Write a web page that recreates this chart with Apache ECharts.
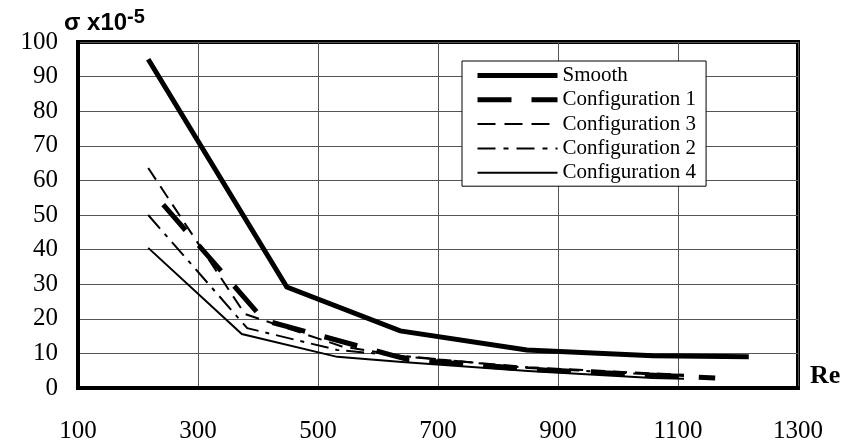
<!DOCTYPE html>
<html>
<head>
<meta charset="utf-8">
<script src="https://cdn.jsdelivr.net/npm/echarts@6/dist/echarts.min.js"></script>
<style>
html,body{margin:0;padding:0;background:#fff;}
#chart{width:861px;height:446px;}
</style>
</head>
<body>
<div id="chart"></div>
<script>
// ---- data ----
var seriesNames = ['Smooth', 'Configuration 1', 'Configuration 3', 'Configuration 2', 'Configuration 4'];
var xTicks = [100, 300, 500, 700, 900, 1100, 1300];
var reSmooth = [217, 448, 637, 848, 1058, 1218];
var valSmooth = [95, 29.2, 16.5, 11, 9.3, 9];
var reConf1 = [242, 410, 650, 850, 1060, 1162];
var valConf1 = [53, 19.6, 8.2, 5.4, 3.7, 2.9];
var reConf3 = [217, 378, 540, 650, 850, 1060, 1110];
var valConf3 = [63.6, 21.4, 12, 9, 6, 4.2, 3.8];
var reConf2 = [217, 382, 532, 640, 850, 1060, 1110];
var valConf2 = [50, 17.3, 11, 9.3, 5.8, 3.9, 3.5];
var reConf4 = [217, 373, 532, 640, 850, 1058, 1110];
var valConf4 = [40.5, 15.6, 9, 7.5, 4.9, 2.9, 2.7];

function pairs(xs, ys) { return xs.map(function (x, i) { return [x, ys[i]]; }); }

var chart = echarts.init(document.getElementById('chart'));
var serif = 'Liberation Serif, Times New Roman, serif';
var styles = {
  'Smooth': { width: 5, type: 'solid' },
  'Configuration 1': { width: 5, type: [34, 20] },
  'Configuration 3': { width: 2, type: [14, 8] },
  'Configuration 2': { width: 2, type: [18, 7, 4, 7] },
  'Configuration 4': { width: 2, type: 'solid' }
};
var legendStyles = {
  'Configuration 3': [18, 9],
  'Configuration 2': [18, 8, 5, 8]
};
function mk(name, xs, ys) {
  var s = styles[name];
  return {
    name: name, type: 'line', data: pairs(xs, ys), symbol: 'none',
    lineStyle: { color: '#000', width: s.width, type: s.type, cap: 'butt', join: 'miter' },
    itemStyle: { color: '#000' },
    emphasis: { disabled: true }, animation: false, z: 3
  };
}
chart.setOption({
  animation: false,
  grid: { left: 78, right: 63, top: 42, bottom: 58, show: true, borderColor: '#000', borderWidth: 4, backgroundColor: 'transparent' },
  legend: {
    orient: 'vertical', left: 462, top: 61,
    data: seriesNames.map(function (n) {
      var s = styles[n];
      return { name: n, itemStyle: { opacity: 0 }, lineStyle: { width: s.width, type: legendStyles[n] || s.type, color: '#000', cap: 'butt' } };
    }),
    itemWidth: 80, itemHeight: 14, itemGap: 3.3,
    padding: [4, 10, 3, 13],
    backgroundColor: '#fff', borderColor: '#000', borderWidth: 1,
    textStyle: { fontFamily: serif, fontSize: 21, color: '#000', lineHeight: 21 },
    selectedMode: false
  },
  xAxis: {
    type: 'value', min: xTicks[0], max: xTicks[xTicks.length - 1], interval: 200,
    axisLine: { show: true, lineStyle: { color: '#000', width: 4 } },
    axisTick: { show: false },
    splitLine: { show: true, lineStyle: { color: '#555', width: 1 } },
    axisLabel: { fontFamily: serif, fontSize: 25, color: '#000', margin: 31, formatter: function (v) { return String(v); } }
  },
  yAxis: {
    type: 'value', min: 0, max: 100, interval: 10,
    axisLine: { show: true, lineStyle: { color: '#000', width: 4 } },
    axisTick: { show: false },
    splitLine: { show: true, lineStyle: { color: '#555', width: 1 } },
    axisLabel: { fontFamily: serif, fontSize: 25, color: '#000', margin: 20 }
  },
  graphic: [
    { type: 'text', left: 64, top: 11, style: { text: 'σ x10', font: 'bold 24px Liberation Sans, Arial, sans-serif', fill: '#000' } },
    { type: 'text', left: 127, top: 7, style: { text: '-5', font: 'bold 20px Liberation Sans, Arial, sans-serif', fill: '#000' } },
    { type: 'text', left: 810, top: 363, style: { text: 'Re', font: 'bold 26px Liberation Serif, Times New Roman, serif', fill: '#000' } }
  ],
  series: seriesNames.map(function (n) {
    if (n === 'Smooth') return mk(n, reSmooth, valSmooth);
    if (n === 'Configuration 1') return mk(n, reConf1, valConf1);
    if (n === 'Configuration 3') return mk(n, reConf3, valConf3);
    if (n === 'Configuration 2') return mk(n, reConf2, valConf2);
    return mk(n, reConf4, valConf4);
  })
});
</script>
</body>
</html>
